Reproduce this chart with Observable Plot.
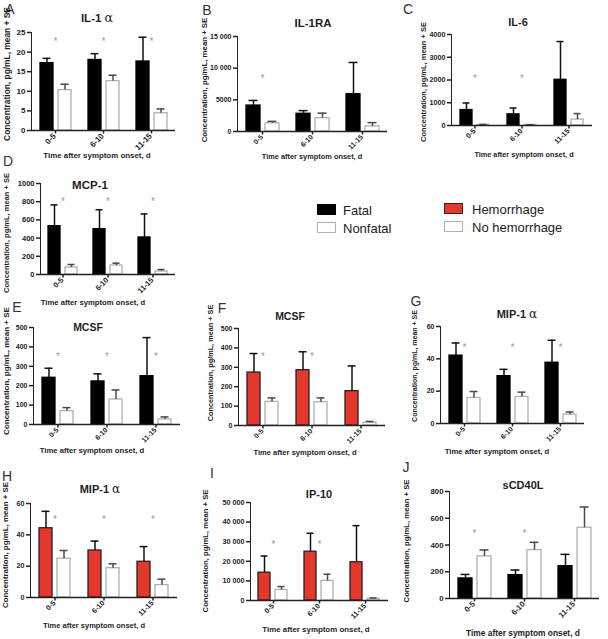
<!DOCTYPE html>
<html><head><meta charset="utf-8">
<script src="https://cdn.jsdelivr.net/npm/d3@7"></script>
<script src="https://cdn.jsdelivr.net/npm/@observablehq/plot@0.6"></script>
<style>
body{margin:0;background:#fff;}
#root{position:relative;width:608px;height:639px;overflow:hidden;font-family:"Liberation Sans",Arial,sans-serif;color:#1e1e1e;}
#root svg{position:absolute;max-width:none;}
.lbl{position:absolute;white-space:nowrap;transform:translate(-50%,-50%);line-height:1;}
.ttl{font-weight:bold;}
.let{font-size:14px;color:#333;}
.xt{font-weight:bold;}
.yl{font-weight:bold;transform:translate(-50%,-50%) rotate(-90deg);}
.lg{position:absolute;font-size:13px;line-height:1;white-space:nowrap;color:#222;transform:translateY(-50%);}
.box{position:absolute;box-sizing:border-box;}
#root svg [aria-label="y-axis tick"], #root svg [aria-label="y-axis line"] {stroke-width:1.5;}
</style></head><body><div id="root"></div>
<script>
// ---------- data ----------
const days = ["0-5", "6-10", "11-15"];
const outcomeSeries = ["Fatal", "Nonfatal"];
const hemorrhageSeries = ["Hemorrhage", "No hemorrhage"];
const panelLetters = ["A","B","C","D","E","F","G","H","I","J"];
const panelTitles = ["IL-1 α","IL-1RA","IL-6","MCP-1","MCSF","MCSF","MIP-1 α","MIP-1 α","IP-10","sCD40L"];
const panelGrouping = ["outcome","outcome","outcome","outcome","outcome","hemorrhage","outcome","hemorrhage","hemorrhage","outcome"];
const yMaxes = [25, 15000, 4000, 1000, 500, 500, 60, 60, 50000, 800];
const yTickValues = [
  [0,5,10,15,20,25],
  [0,5000,10000,15000],
  [0,1000,2000,3000,4000],
  [0,200,400,600,800,1000],
  [0,100,200,300,400,500],
  [0,100,200,300,400,500],
  [0,20,40,60],
  [0,20,40,60],
  [0,10000,20000,30000,40000,50000],
  [0,200,400,600,800]
];
const yAxisTitle = "Concentration, pg/mL, mean + SE";
const xAxisTitle = "Time after symptom onset, d";

// mean values and mean + SE for the first (black/red) and second (white) series
const il1aMean1 = [17.2, 18.0, 17.6],   il1aUpper1 = [18.4, 19.6, 23.8];
const il1aMean2 = [10.3, 12.6, 4.4],    il1aUpper2 = [11.8, 14.1, 5.5];
const il1raMean1 = [4100, 2800, 5900],  il1raUpper1 = [4900, 3300, 10900];
const il1raMean2 = [1300, 2100, 800],   il1raUpper2 = [1600, 2900, 1400];
const il6Mean1 = [680, 490, 2010],      il6Upper1 = [990, 770, 3690];
const il6Mean2 = [30, 25, 262],         il6Upper2 = [45, 35, 525];
const mcp1Mean1 = [531, 498, 407],      mcp1Upper1 = [765, 712, 665];
const mcp1Mean2 = [77, 99, 33],         mcp1Upper2 = [110, 124, 55];
const mcsfMean1 = [241, 222, 249],      mcsfUpper1 = [290, 261, 448];
const mcsfMean2 = [69, 129, 26],        mcsfUpper2 = [87, 178, 39];
const mcsfHMean1 = [273, 285, 177],     mcsfHUpper1 = [371, 380, 307];
const mcsfHMean2 = [122, 120, 14],      mcsfHUpper2 = [142, 142, 21];
const mip1aMean1 = [42, 29.3, 37.6],    mip1aUpper1 = [49.8, 33.5, 51.5];
const mip1aMean2 = [15.8, 16.4, 5.5],   mip1aUpper2 = [19.8, 19.4, 7.1];
const mip1aHMean1 = [44.2, 30, 22.8],   mip1aHUpper1 = [55, 36, 32.5];
const mip1aHMean2 = [24.8, 18.7, 7.9],  mip1aHUpper2 = [30, 21.5, 11.7];
const ip10Mean1 = [14200, 24900, 19500], ip10Upper1 = [22700, 34300, 38200];
const ip10Mean2 = [5400, 10000, 900],   ip10Upper2 = [7100, 13400, 1300];
const scd40lMean1 = [150, 175, 242],    scd40lUpper1 = [180, 213, 330];
const scd40lMean2 = [315, 362, 529],    scd40lUpper2 = [363, 420, 684];

// significance markers (value at which the asterisk sits; null = none)
const starIl1a = [23.4, 23.4, 23.4];
const starIl1ra = [8800, null, null];
const starIl6 = [2200, 2200, null];
const starMcp1 = [835, 835, 835];
const starMcsf = [366, 366, 366];
const starMcsfH = [370, 370, null];
const starMip1a = [48.5, 48.5, 48.5];
const starMip1aH = [51.5, 51.5, 51.5];
const starIp10 = [29800, 29800, null];
const starScd40l = [505, 505, null];

const means1 = [il1aMean1, il1raMean1, il6Mean1, mcp1Mean1, mcsfMean1, mcsfHMean1, mip1aMean1, mip1aHMean1, ip10Mean1, scd40lMean1];
const uppers1 = [il1aUpper1, il1raUpper1, il6Upper1, mcp1Upper1, mcsfUpper1, mcsfHUpper1, mip1aUpper1, mip1aHUpper1, ip10Upper1, scd40lUpper1];
const means2 = [il1aMean2, il1raMean2, il6Mean2, mcp1Mean2, mcsfMean2, mcsfHMean2, mip1aMean2, mip1aHMean2, ip10Mean2, scd40lMean2];
const uppers2 = [il1aUpper2, il1raUpper2, il6Upper2, mcp1Upper2, mcsfUpper2, mcsfHUpper2, mip1aUpper2, mip1aHUpper2, ip10Upper2, scd40lUpper2];
const stars = [starIl1a, starIl1ra, starIl6, starMcp1, starMcsf, starMcsfH, starMip1a, starMip1aH, starIp10, starScd40l];

// ---------- layout (pixel placement and font sizes of each panel) ----------
const layout = [
  {col:0,   axisX:31,  xEnd:175, yTop:32,  yBottom:130, title:[97,18],   tfs:11.5, letter:[10,9],   xTitle:[97,156],  xfs:7.9, yLabel:[7,74],   yfs:8.4, tick:8},
  {col:200, axisX:236, xEnd:388, yTop:36,  yBottom:131, title:[313,24],  tfs:11.5, letter:[207,10], xTitle:[312,157], xfs:7.4, yLabel:[205,80], yfs:7.8, tick:7},
  {col:400, axisX:450, xEnd:593, yTop:34,  yBottom:125, title:[518,22],  tfs:11,   letter:[408,9],  xTitle:[524,155], xfs:7.3, yLabel:[424,82], yfs:7.5, tick:7.2},
  {col:0,   axisX:39,  xEnd:175, yTop:183, yBottom:274, title:[90,186],  tfs:11.5, letter:[8,161],  xTitle:[93,303],  xfs:7.7, yLabel:[7,233],  yfs:7.5, tick:7.5},
  {col:0,   axisX:33,  xEnd:180, yTop:327, yBottom:424, title:[88,327],  tfs:10.5, letter:[17,307], xTitle:[92,451],  xfs:7.7, yLabel:[7,371],  yfs:8,   tick:7},
  {col:200, axisX:238, xEnd:385, yTop:328, yBottom:425, title:[290,316], tfs:10.5, letter:[222,308],xTitle:[305,453], xfs:7.6, yLabel:[211,363], yfs:7.3, tick:7},
  {col:400, axisX:439, xEnd:584, yTop:326, yBottom:423, title:[517,314], tfs:11,   letter:[416,301],xTitle:[497,452], xfs:7.7, yLabel:[414,366], yfs:7,   tick:7},
  {col:0,   axisX:30,  xEnd:177, yTop:503, yBottom:597, title:[100,489], tfs:11,   letter:[7,476],  xTitle:[94,626],  xfs:7.5, yLabel:[6,545],  yfs:7.9, tick:7.2},
  {col:200, axisX:249, xEnd:388, yTop:502, yBottom:600, title:[319,494], tfs:11,   letter:[212,473],xTitle:[316,630], xfs:7.9, yLabel:[206,551], yfs:7.7, tick:7.2},
  {col:400, axisX:448, xEnd:600, yTop:491, yBottom:598, title:[523,485], tfs:11,   letter:[406,467],xTitle:[523,633], xfs:8.4, yLabel:[407,541], yfs:7.7, tick:7.8}
];

const RED = "#e4382c";
const root = document.getElementById("root");
const fmt = d => d >= 10000 ? d3.format(",")(d).replace(/,/g, " ") : String(d);

function addLabel(cls, html, pos, fs) {
  const el = document.createElement("div");
  el.className = "lbl " + cls;
  el.innerHTML = html;
  el.style.left = pos[0] + "px";
  el.style.top = pos[1] + "px";
  if (fs) el.style.fontSize = fs + "px";
  root.appendChild(el);
}

const labels = [];
for (let i = 0; i < 10; i++) {
  const lay = layout[i];
  const series = panelGrouping[i] === "outcome" ? outcomeSeries : hemorrhageSeries;
  const fills = panelGrouping[i] === "outcome" ? ["#000", "#fff"] : [RED, "#fff"];
  const strokes = panelGrouping[i] === "outcome" ? ["#000", "#b0b0b0"] : ["#2b2020", "#b0b0b0"];
  const errStroke = ["#111", "#4a4a4a"];
  const rows = [];
  days.forEach((d, di) => {
    rows.push({day: d, series: series[0], si: 0, mean: means1[i][di], upper: uppers1[i][di], star: stars[i][di]});
    rows.push({day: d, series: series[1], si: 1, mean: means2[i][di], upper: uppers2[i][di], star: null});
  });
  const mT = 8, mB = 30, mR = 4;
  const mL = lay.axisX - lay.col;
  const width = lay.xEnd - lay.col + mR;
  const height = lay.yBottom - lay.yTop + mT + mB;
  const marks = [];
  [0, 1].forEach(si => {
    marks.push(Plot.barY(rows, {filter: d => d.si === si, x: "series", y: "mean", fill: fills[si], stroke: strokes[si], strokeWidth: 1.3}));
    marks.push(Plot.ruleX(rows, {filter: d => d.si === si, x: "series", y1: "mean", y2: "upper", stroke: errStroke[si], strokeWidth: 1.5}));
    marks.push(Plot.tickY(rows, {filter: d => d.si === si, x: "series", y: "upper", stroke: errStroke[si], strokeWidth: 1.5, insetLeft: 2.5, insetRight: 2.5}));
  });
  marks.push(Plot.ruleY([0], {stroke: "#222", strokeWidth: 1.5}));
  // group tick below the axis, centred in each day facet
  marks.push(Plot.ruleX(rows, {filter: d => d.si === 0, x: null, y1: 0, y2: 0, insetTop: 3.5, stroke: "#222", strokeWidth: 1.5}));
  // rotated day labels
  marks.push(Plot.text(rows, {filter: d => d.si === 0, text: "day", frameAnchor: "bottom", rotate: -45, textAnchor: "end", dy: 6, dx: 1, fontSize: lay.tick, fontWeight: "bold", fill: "#222"}));
  marks.push(Plot.text(rows, {filter: d => d.star != null, y: "star", text: () => "*", fill: "#9a9a9a", fontSize: 10, fontWeight: "normal", dy: 3}));
  const svg = Plot.plot({
    width, height, marginLeft: mL, marginRight: mR, marginTop: mT, marginBottom: mB,
    style: {background: "transparent", fontFamily: "'Liberation Sans', Arial, sans-serif", fontSize: lay.tick + "px", fontWeight: "bold", color: "#222", overflow: "visible"},
    facet: {data: rows, x: "day"},
    fx: {domain: days, padding: 0, axis: null},
    x: {domain: series, axis: null, paddingInner: 0.28, paddingOuter: 0.45},
    y: {domain: [0, yMaxes[i]], ticks: yTickValues[i], tickFormat: fmt, tickSize: 4, tickPadding: 2, line: true, label: null},
    marks
  });
  svg.style.left = lay.col + "px";
  svg.style.top = (lay.yTop - mT) + "px";
  root.appendChild(svg);
  labels.push(() => {
    addLabel("ttl", panelTitles[i].replace("α", '<span style="font-weight:normal;font-family:\'DejaVu Serif\',serif;font-size:1.1em">α</span>'), lay.title, lay.tfs);
    addLabel("let", panelLetters[i], lay.letter);
    addLabel("xt", xAxisTitle, lay.xTitle, lay.xfs);
    addLabel("yl", yAxisTitle, lay.yLabel, lay.yfs);
  });
}
labels.forEach(f => f());

// ---------- legend ----------
function legendItem(name, fill, stroke, bx, by, tx, ty) {
  const b = document.createElement("div");
  b.className = "box";
  Object.assign(b.style, {left: bx + "px", top: by + "px", width: "19px", height: "11px", background: fill, border: "1px solid " + stroke});
  root.appendChild(b);
  const t = document.createElement("div");
  t.className = "lg";
  t.textContent = name;
  t.style.left = tx + "px";
  t.style.top = ty + "px";
  root.appendChild(t);
}
legendItem(outcomeSeries[0], "#000", "#000", 317, 204, 343, 210);
legendItem(outcomeSeries[1], "#fff", "#b0b0b0", 317, 222, 343, 228);
legendItem(hemorrhageSeries[0], RED, "#3a2020", 444, 203, 472, 209);
legendItem(hemorrhageSeries[1], "#fff", "#b0b0b0", 444, 221, 472, 227);
</script></body></html>
